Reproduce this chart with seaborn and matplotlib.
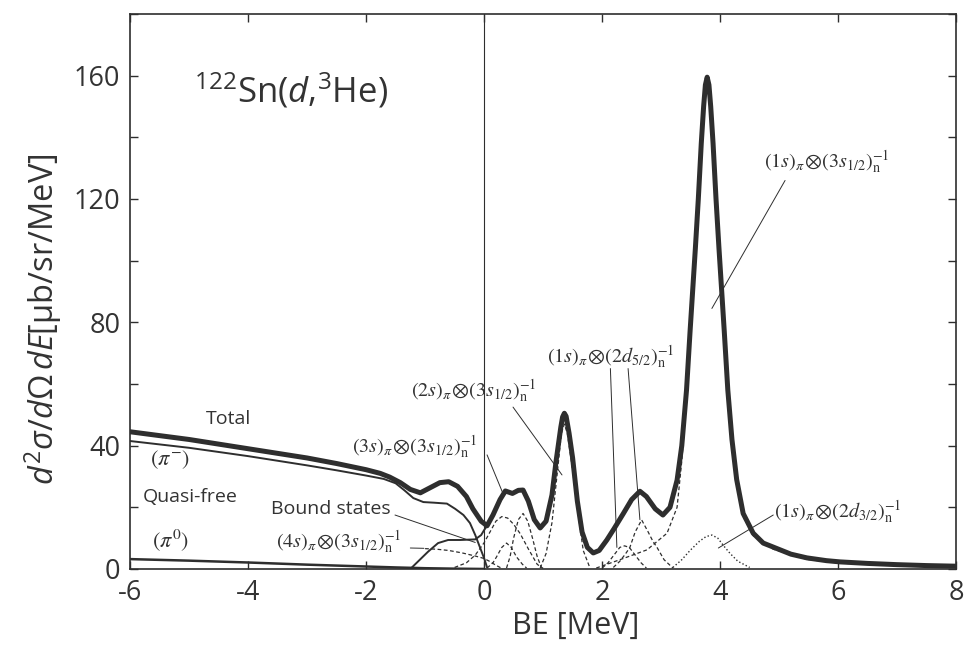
import matplotlib
matplotlib.use("Agg")
import matplotlib.pyplot as plt
from matplotlib.ticker import MultipleLocator
import seaborn as sns
import pandas as pd

# ---------------- data ----------------
total_x = [-6.0, -5.0, -4.0, -3.0, -2.5, -2.0, -1.76, -1.6, -1.42, -1.25, -1.08, -0.92, -0.75, -0.6,
           -0.45, -0.3, -0.19, -0.05, 0.05, 0.15, 0.27, 0.36, 0.48, 0.58, 0.66, 0.75, 0.85, 0.95,
           1.05, 1.15, 1.22, 1.30, 1.33, 1.36, 1.39, 1.44, 1.50, 1.58, 1.66, 1.75, 1.85, 1.95, 2.08,
           2.2, 2.36, 2.5, 2.64, 2.75, 2.9, 3.03, 3.15, 3.27, 3.35, 3.43, 3.49, 3.54, 3.58, 3.63,
           3.68, 3.72, 3.75, 3.78, 3.81, 3.84, 3.88, 3.93, 3.98, 4.02, 4.07, 4.13, 4.2, 4.28, 4.39,
           4.56, 4.73, 4.9, 5.2, 5.47, 5.8, 6.03, 6.5, 7.0, 7.5, 8.0]
total_y = [44.5, 42.0, 39.0, 36.0, 34.2, 32.2, 31.0, 29.8, 28.0, 25.8, 24.7, 26.3, 28.0, 28.3,
           26.8, 23.5, 19.5, 15.5, 14.0, 17.5, 22.5, 25.3, 24.5, 25.5, 25.6, 22.0, 16.0, 13.3,
           15.5, 24.0, 35.0, 46.0, 49.3, 50.5, 49.5, 44.0, 36.0, 22.0, 12.0, 7.0, 5.2, 6.0, 9.4,
           13.0, 18.0, 22.5, 25.2, 23.5, 19.5, 17.5, 20.0, 28.8, 40.0, 58.0, 77.0, 92.0, 104.0, 120.0,
           138.0, 150.0, 157.0, 159.5, 157.0, 150.0, 138.0, 120.0, 104.0, 92.0, 77.0, 58.0, 42.0, 29.0, 18.0,
           11.6, 8.4, 7.1, 4.8, 3.6, 2.7, 2.3, 1.8, 1.4, 1.1, 0.9]

qf_minus_x = [-6.0, -5.0, -4.0, -3.0, -2.5, -2.0, -1.7, -1.5, -1.35, -1.2, -1.03, -0.85, -0.63,
              -0.49, -0.35, -0.24, -0.15, -0.07, 0.0, 0.05]
qf_minus_y = [41.5, 39.3, 36.6, 33.6, 32.0, 30.3, 29.2, 27.8, 25.5, 23.0, 21.7, 21.5, 21.2,
              19.5, 17.5, 14.9, 11.0, 7.0, 3.5, 0.5]

qf_zero_x = [-6.0, -5.0, -4.0, -3.0, -2.0, -1.5, -1.0, -0.5, 0.0]
qf_zero_y = [3.2, 2.7, 2.1, 1.4, 0.8, 0.5, 0.25, 0.1, 0.0]

bound_x = [-1.25, -1.1, -0.95, -0.78, -0.61, -0.4, -0.15, -0.05, 0.0, 0.05]
bound_y = [0.0, 2.8, 5.6, 8.4, 9.4, 9.4, 9.6, 11.0, 12.6, 14.0]

s4_x = [-1.0, -0.8, -0.6, -0.37, -0.15, 0.0, 0.1, 0.2, 0.3]
s4_y = [6.6, 6.4, 6.0, 5.2, 4.2, 3.4, 2.4, 1.2, 0.2]

s3_x = [-0.5, -0.3, -0.15, 0.0, 0.1, 0.2, 0.3, 0.4, 0.5, 0.61, 0.75, 0.9, 1.0]
s3_y = [0.5, 2.0, 4.5, 8.5, 12.0, 15.5, 17.0, 16.5, 14.5, 11.5, 6.5, 1.5, 0.2]

pa_x = [0.05, 0.15, 0.21, 0.3, 0.38, 0.46, 0.55, 0.65, 0.72]
pa_y = [0.3, 2.0, 3.9, 7.0, 8.4, 7.0, 3.9, 1.5, 0.3]

pb_x = [0.38, 0.44, 0.5, 0.58, 0.66, 0.74, 0.82, 0.9, 0.97]
pb_y = [0.3, 4.0, 10.0, 16.0, 18.0, 15.5, 10.0, 4.0, 0.5]

s2_x = [0.95, 1.05, 1.15, 1.25, 1.31, 1.36, 1.41, 1.5, 1.6, 1.68, 1.79]
s2_y = [0.3, 5.0, 15.0, 33.0, 44.0, 47.0, 44.0, 32.0, 17.0, 6.0, 0.5]

d52a_x = [2.0, 2.1, 2.2, 2.3, 2.38, 2.46, 2.56, 2.66, 2.75]
d52a_y = [0.3, 2.0, 4.5, 7.0, 7.5, 7.0, 4.5, 2.0, 0.3]

d52b_x = [2.19, 2.3, 2.4, 2.47, 2.56, 2.67, 2.78, 2.86, 2.93, 3.05, 3.2]
d52b_y = [0.5, 2.5, 5.0, 7.0, 12.0, 15.9, 12.0, 9.0, 7.0, 3.0, 0.3]

s1_x = [1.9, 2.3, 2.76, 3.1, 3.27, 3.35, 3.43, 3.49, 3.54, 3.58, 3.63, 3.68, 3.72, 3.75, 3.78,
        3.81, 3.84, 3.88, 3.93, 3.98, 4.02, 4.07, 4.13, 4.2, 4.28, 4.39, 4.56, 4.9, 5.47, 6.03,
        7.0, 8.0]
s1_y = [0.3, 3.0, 6.2, 11.6, 20.0, 35.0, 55.0, 74.0, 89.0, 101.0, 117.0, 135.0, 147.0, 154.0, 156.5,
        154.0, 147.0, 135.0, 117.0, 101.0, 89.0, 74.0, 55.5, 40.5, 28.0, 17.0, 10.8, 6.4, 3.1, 1.9,
        1.1, 0.7]

d32_x = [3.2, 3.35, 3.49, 3.65, 3.76, 3.86, 3.96, 4.06, 4.17, 4.3, 4.5]
d32_y = [0.5, 3.0, 6.0, 9.0, 10.5, 11.0, 10.0, 7.5, 5.0, 2.5, 0.5]

x_ticks = [-6, -4, -2, 0, 2, 4, 6, 8]
y_ticks = [0, 40, 80, 120, 160]

# ---------------- style ----------------
sns.set_style("ticks")
plt.rcParams['font.family'] = ['Open Sans', 'DejaVu Sans']
plt.rcParams['mathtext.fontset'] = 'custom'
plt.rcParams['mathtext.rm'] = 'Open Sans'
plt.rcParams['mathtext.it'] = 'Open Sans:italic'
plt.rcParams['mathtext.bf'] = 'Open Sans:bold'
plt.rcParams['axes.unicode_minus'] = False

INK = '#2e2e2e'
TXT = '#333333'

fig = plt.figure(figsize=(9.64, 6.47), dpi=100)
ax = fig.add_axes([0.1349, 0.1206, 0.857, 0.8578])


def draw(xs, ys, lw, ls='-', color=INK):
    df = pd.DataFrame({'x': xs, 'y': ys})
    sns.lineplot(data=df, x='x', y='y', ax=ax, color=color, lw=lw, linestyle=ls,
                 sort=False, estimator=None, solid_capstyle='round', solid_joinstyle='round')


dash = (0, (3.0, 2.0))
dot = (0, (1.0, 1.6))

# component curves
draw(s4_x, s4_y, 0.9, dash)
draw(s3_x, s3_y, 0.9, dash)
draw(pa_x, pa_y, 0.9, dash)
draw(pb_x, pb_y, 0.9, dash)
draw(s2_x, s2_y, 0.9, dash)
draw(d52a_x, d52a_y, 0.9, dash)
draw(d52b_x, d52b_y, 0.9, dash)
draw(s1_x, s1_y, 0.9, dash)
draw(d32_x, d32_y, 1.0, dot)
# quasi-free and bound sums
draw(qf_zero_x, qf_zero_y, 1.8)
draw(qf_minus_x, qf_minus_y, 1.4)
draw(bound_x, bound_y, 1.4)
# total
draw(total_x, total_y, 3.6)

ax.axvline(0, color=INK, lw=0.8, zorder=0)

# leader lines
leaders = [((5.1, 126.0), (3.86, 84.5)),
           ((4.9, 17.5), (3.97, 6.8)),
           ((2.14, 65.0), (2.25, 7.0)),
           ((2.44, 65.0), (2.64, 16.0)),
           ((0.49, 52.5), (1.32, 30.5)),
           ((0.05, 37.0), (0.33, 24.0)),
           ((-1.51, 17.5), (-0.15, 8.6)),
           ((-1.25, 6.8), (-1.02, 6.7))]
for (x0, y0), (x1, y1) in leaders:
    ax.plot([x0, x1], [y0, y1], color=INK, lw=0.7)

# text
tkw = dict(color=TXT, ha='center', va='center')
ax.text(-3.27, 155, r"$^{122}$Sn($d$,$^{3}$He)", fontsize=25, **tkw)
ax.text(-4.34, 48.6, "Total", fontsize=14, **tkw)
ax.text(-5.32, 35.3, r"$(\pi^{-})$", fontsize=16, math_fontfamily='stix', **tkw)
ax.text(-4.98, 23.3, "Quasi-free", fontsize=14, **tkw)
ax.text(-5.32, 9.4, r"$(\pi^{0})$", fontsize=16, math_fontfamily='stix', **tkw)
ax.text(-2.59, 19.4, "Bound states", fontsize=14, **tkw)

lkw = dict(fontsize=14.5, math_fontfamily='stix', **tkw)
ax.text(-2.47, 8.6, r"$(4s)_{\pi}\!\otimes\!(3s_{1/2})_{\rm n}^{-1}$", **lkw)
ax.text(-1.17, 39.5, r"$(3s)_{\pi}\!\otimes\!(3s_{1/2})_{\rm n}^{-1}$", **lkw)
ax.text(-0.17, 57.7, r"$(2s)_{\pi}\!\otimes\!(3s_{1/2})_{\rm n}^{-1}$", **lkw)
ax.text(2.15, 68.7, r"$(1s)_{\pi}\!\otimes\!(2d_{5/2})_{\rm n}^{-1}$", **lkw)
ax.text(5.8, 131.8, r"$(1s)_{\pi}\!\otimes\!(3s_{1/2})_{\rm n}^{-1}$", **lkw)
ax.text(6.0, 18.5, r"$(1s)_{\pi}\!\otimes\!(2d_{3/2})_{\rm n}^{-1}$", **lkw)

# axes
ax.set_xlim(-6, 8)
ax.set_ylim(0, 180)
ax.set_xticks(x_ticks)
ax.set_xticklabels([str(v) for v in x_ticks])
ax.set_yticks(y_ticks)
ax.set_yticklabels([str(v) for v in y_ticks])
ax.yaxis.set_minor_locator(MultipleLocator(20))
ax.tick_params(which='both', direction='in', top=True, right=True, length=6, width=1.0,
               color=INK, labelcolor=TXT, labelsize=19.5)
ax.tick_params(axis='y', pad=7)
ax.tick_params(axis='x', pad=7)
for sp in ax.spines.values():
    sp.set_linewidth(1.2)
    sp.set_color(INK)

ax.set_xlabel("BE [MeV]", fontsize=22, color=TXT)
ax.xaxis.set_label_coords(0.54, -0.076)
ax.set_ylabel(r"$d^2\sigma/d\Omega\,dE$[μb/sr/MeV]", fontsize=23.5, color=TXT)
ax.yaxis.set_label_coords(-0.08, 0.45)

fig.savefig("out.png", dpi=100)
